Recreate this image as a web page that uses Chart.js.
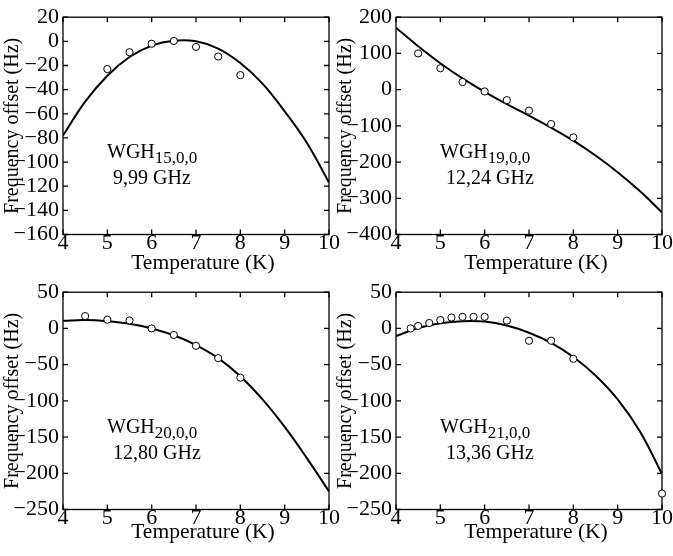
<!DOCTYPE html>
<html>
<head>
<meta charset="utf-8">
<script src="https://cdn.jsdelivr.net/npm/chart.js@4.4.0/dist/chart.umd.min.js"></script>
<style>
  body { margin: 0; background: #fff; width: 673px; height: 556px; position: relative; overflow: hidden; }
  canvas { position: absolute; }
</style>
</head>
<body>
<canvas id="wgh15" width="346" height="280" style="left:0;top:0"></canvas>
<canvas id="wgh19" width="346" height="280" style="left:333px;top:0"></canvas>
<canvas id="wgh20" width="346" height="281" style="left:0;top:275px"></canvas>
<canvas id="wgh21" width="346" height="281" style="left:333px;top:275px"></canvas>
<script>
// temperatures at which the fitted curves are sampled
const fitTemps = [4, 4.5, 5, 5.5, 6, 6.5, 7, 7.5, 8, 8.5, 9, 9.5, 10];

// WGH 15,0,0 - 9,99 GHz
const temps15 = [5, 5.5, 6, 6.5, 7, 7.5, 8];
const offsets15 = [-23, -9, -2, 0.3, -4.6, -12.6, -28];
const fit15 = [-78, -50, -28.5, -13, -3.5, 0.5, 0, -6, -18, -35, -58, -84, -117];

// WGH 19,0,0 - 12,24 GHz
const temps19 = [4.5, 5, 5.5, 6, 6.5, 7, 7.5, 8];
const offsets19 = [100, 59, 21, -5, -29, -58, -95, -132];
const fit19 = [171, 120, 73, 31, -6, -40, -72, -105, -141, -182, -228, -280, -339];

// WGH 20,0,0 - 12,80 GHz
const temps20 = [4.5, 5, 5.5, 6, 6.5, 7, 7.5, 8];
const offsets20 = [17, 12, 11, 0, -9, -24, -41, -68];
const fit20 = [10.5, 11.5, 10, 6.5, 0, -9.5, -23, -41, -66, -98, -136, -179, -225];

// WGH 21,0,0 - 13,36 GHz
const temps21 = [4.33, 4.5, 4.75, 5, 5.25, 5.5, 5.75, 6, 6.5, 7, 7.5, 8, 10];
const offsets21 = [0, 3.5, 7.5, 11.5, 15, 16, 16, 16, 10.7, -17, -17, -42, -228];
const fit21 = [-10.5, 0.5, 7, 10, 9.5, 4, -6, -20, -39.5, -65, -98, -142, -201];

const FONT = '"Liberation Serif", "Times New Roman", serif';

const panels = [
  { id: 'wgh15', mode: '15,0,0', freq: '9,99 GHz', temps: temps15, offsets: offsets15, fit: fit15,
    yMin: -160, yMax: 20, yStep: 20, padTop: 11.5, axisH: 45.5, titleGap: 29 },
  { id: 'wgh19', mode: '19,0,0', freq: '12,24 GHz', temps: temps19, offsets: offsets19, fit: fit19,
    yMin: -400, yMax: 200, yStep: 100, padTop: 11.5, axisH: 45.5, titleGap: 29 },
  { id: 'wgh20', mode: '20,0,0', freq: '12,80 GHz', temps: temps20, offsets: offsets20, fit: fit20,
    yMin: -250, yMax: 50, yStep: 50, padTop: 12, axisH: 46.5, titleGap: 23 },
  { id: 'wgh21', mode: '21,0,0', freq: '13,36 GHz', temps: temps21, offsets: offsets21, fit: fit21,
    yMin: -250, yMax: 50, yStep: 50, padTop: 12, axisH: 46.5, titleGap: 23 }
];

// box around the plot area with inward ticks on all four sides
const frameTicks = {
  id: 'frameTicks',
  beforeDatasetsDraw(chart) {
    const { ctx, chartArea: a, scales: { x, y } } = chart;
    ctx.save();
    ctx.strokeStyle = '#000';
    ctx.lineWidth = 1.3;
    ctx.strokeRect(a.left, a.top, a.width, a.height);
    ctx.beginPath();
    x.ticks.forEach(t => {
      const px = x.getPixelForValue(t.value);
      ctx.moveTo(px, a.bottom); ctx.lineTo(px, a.bottom - 5);
      ctx.moveTo(px, a.top); ctx.lineTo(px, a.top + 5);
    });
    y.ticks.forEach(t => {
      const py = y.getPixelForValue(t.value);
      ctx.moveTo(a.left, py); ctx.lineTo(a.left + 5, py);
      ctx.moveTo(a.right, py); ctx.lineTo(a.right - 5, py);
    });
    ctx.stroke();
    ctx.restore();
  },
  afterDraw(chart, args, opts) {
    const { ctx, chartArea: a } = chart;
    ctx.save();
    ctx.fillStyle = '#000';
    ctx.textBaseline = 'alphabetic';
    ctx.textAlign = 'left';
    ctx.font = '20px ' + FONT;
    const wx = a.left + 44, wy = a.top + 140.5;
    ctx.fillText('WGH', wx, wy);
    const w = ctx.measureText('WGH').width;
    ctx.font = '17px ' + FONT;
    ctx.fillText(opts.mode, wx + w, wy + 5.5);
    ctx.font = '20px ' + FONT;
    ctx.fillText(opts.freq, a.left + 50, a.top + 167);
    // x-axis title
    ctx.font = '21.5px ' + FONT;
    ctx.textAlign = 'center';
    ctx.textBaseline = 'middle';
    ctx.fillText('Temperature (K)', a.left + a.width / 2 + 7, a.bottom + opts.titleGap);
    ctx.restore();
  }
};

const minus = v => String(v).replace('-', '\u2212');

panels.forEach(p => {
  new Chart(document.getElementById(p.id), {
    type: 'scatter',
    data: {
      datasets: [
        {
          data: p.temps.map((t, i) => ({ x: t, y: p.offsets[i] })),
          pointRadius: 3.6,
          pointBackgroundColor: '#fff',
          pointBorderColor: '#000',
          pointBorderWidth: 1,
          showLine: false,
          clip: false,
          order: 0
        },
        {
          type: 'line',
          data: fitTemps.map((t, i) => ({ x: t, y: p.fit[i] })),
          borderColor: '#000',
          borderWidth: 2,
          pointRadius: 0,
          tension: 0.4,
          fill: false,
          order: 1
        }
      ]
    },
    options: {
      responsive: false,
      animation: false,
      events: [],
      layout: { autoPadding: false, padding: { top: p.padTop, right: 17, left: 0, bottom: 0 } },
      plugins: {
        legend: { display: false },
        tooltip: { enabled: false },
        frameTicks: { mode: p.mode, freq: p.freq, titleGap: p.titleGap }
      },
      scales: {
        x: {
          type: 'linear',
          min: 4, max: 10,
          grid: { display: false, drawTicks: false, tickLength: 0 },
          border: { display: false },
          ticks: { stepSize: 1, autoSkip: false, maxRotation: 0, padding: -4, color: '#000', font: { family: FONT, size: 22 } },
          afterFit(scale) { scale.height = p.axisH; }
        },
        y: {
          min: p.yMin, max: p.yMax,
          grid: { display: false, drawTicks: false, tickLength: 0 },
          border: { display: false },
          ticks: { stepSize: p.yStep, autoSkip: false, padding: 4, color: '#000', font: { family: FONT, size: 22 }, callback: minus },
          title: { display: true, text: 'Frequency offset (Hz)', color: '#000', font: { family: FONT, size: 20 }, padding: { top: 1, bottom: 0 } },
          afterFit(scale) { scale.width = 63; }
        }
      }
    },
    plugins: [frameTicks]
  });
});
</script>
</body>
</html>
